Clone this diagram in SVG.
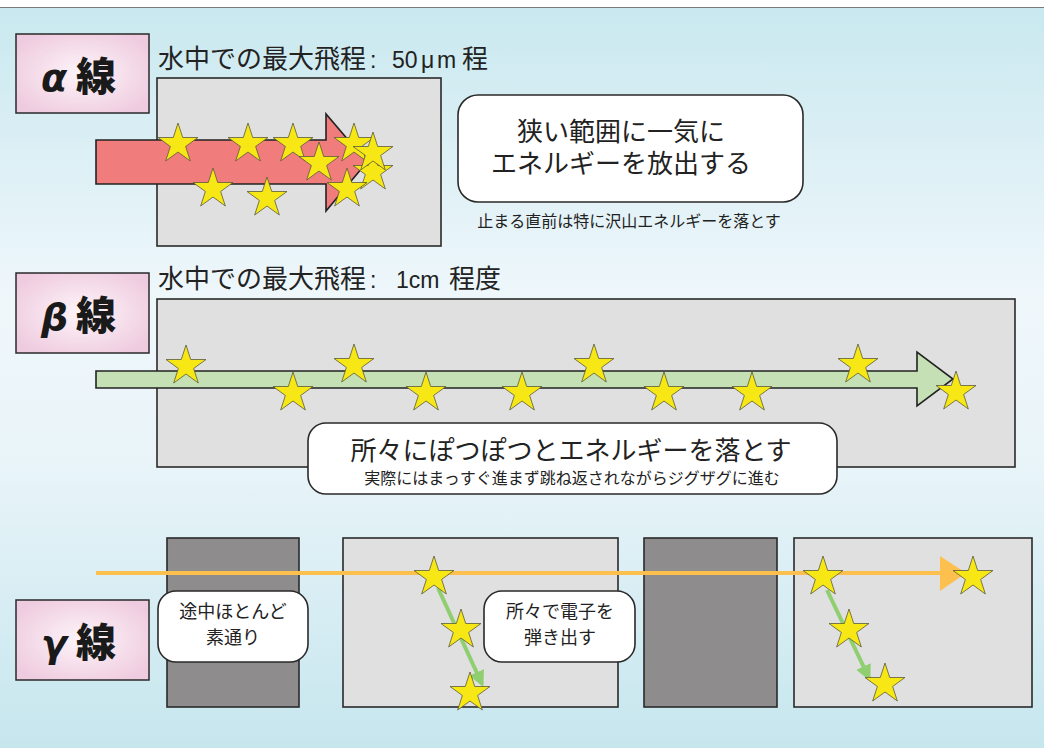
<svg xmlns="http://www.w3.org/2000/svg" xmlns:xlink="http://www.w3.org/1999/xlink" width="1044" height="748" viewBox="0 0 1044 748">
<defs>
<linearGradient id="bg" x1="0" y1="0" x2="0" y2="1">
<stop offset="0" stop-color="#c8e8ef"/>
<stop offset="0.4" stop-color="#eff7fb"/>
<stop offset="0.6" stop-color="#eaf5f9"/>
<stop offset="1" stop-color="#c6e6ee"/>
</linearGradient>
<radialGradient id="pink" cx="0.5" cy="0.5" r="0.6">
<stop offset="0" stop-color="#fdf5f9"/>
<stop offset="1" stop-color="#efcbdf"/>
</radialGradient>
<path id="star" d="M0,-21 L4.71,-6.49 L19.97,-6.49 L7.63,2.48 L12.34,16.99 L0,8.02 L-12.34,16.99 L-7.63,2.48 L-19.97,-6.49 L-4.71,-6.49 Z"/>
<marker id="gh" viewBox="0 0 10 10" refX="8" refY="5" markerWidth="4" markerHeight="4" orient="auto" markerUnits="strokeWidth">
<path d="M0,0 L10,5 L0,10 Z" fill="#8fcf70"/>
</marker>
<style>
.lbl{fill:url(#pink);stroke:#2a2a2a;stroke-width:1.5}
.box{fill:#e0e0e0;stroke:#2a2a2a;stroke-width:1.6}
.dark{fill:#8e8c8d;stroke:#2a2a2a;stroke-width:1.6}
.call{fill:#ffffff;stroke:#2a2a2a;stroke-width:1.6}
.st{fill:#f6e715;stroke:#5a5a3a;stroke-width:0.8}
.t{font-family:"Noto Sans CJK JP","Liberation Sans",sans-serif;fill:#222}
.lat{font-family:"Liberation Sans","Noto Sans CJK JP",sans-serif;font-size:23px}
.big{font-family:"Noto Sans CJK JP","Liberation Sans",sans-serif;font-weight:900;fill:#1a1a1a;font-size:40px}
.gk{font-family:"DejaVu Sans","Liberation Sans",sans-serif;font-weight:bold;font-style:italic;fill:#1a1a1a;font-size:38px}
</style>
</defs>
<rect x="0" y="0" width="1044" height="748" fill="url(#bg)"/>
<rect x="0" y="0" width="1044" height="7" fill="#ffffff"/>
<line x1="0" y1="7.5" x2="1044" y2="7.5" stroke="#7a7a7a" stroke-width="1"/>

<g id="alpha">
<rect class="lbl" x="16" y="34" width="133" height="79"/>
<text class="gk" x="41" y="91">α</text>
<text class="big" x="76" y="91">線</text>
<text class="t" x="158" y="68" font-size="26">水中での最大飛程<tspan class="lat" x="370">:</tspan><tspan class="lat" x="392">50</tspan><tspan class="lat" x="421">μ</tspan><tspan class="lat" x="437">m</tspan><tspan x="462">程</tspan></text>
<rect class="box" x="157" y="78" width="284" height="168"/>
<polygon points="96,140 326,140 326,114 367,162 326,211 326,184 96,184" fill="#f17c7c" stroke="#222" stroke-width="1.6"/>
<g class="st">
<use href="#star" x="178" y="144"/>
<use href="#star" x="248" y="144"/>
<use href="#star" x="293" y="144"/>
<use href="#star" x="213" y="189"/>
<use href="#star" x="267" y="198"/>
<use href="#star" x="319" y="163"/>
<use href="#star" x="354" y="144"/>
<use href="#star" x="373" y="172"/>
<use href="#star" x="347" y="189"/>
<use href="#star" x="373" y="153"/>
</g>
<rect class="call" x="458" y="95" width="345" height="107" rx="20"/>
<text class="t" x="621" y="141" font-size="26" text-anchor="middle">狭い範囲に一気に</text>
<text class="t" x="621" y="173" font-size="26" text-anchor="middle">エネルギーを放出する</text>
<text class="t" x="629" y="227" font-size="16" text-anchor="middle">止まる直前は特に沢山エネルギーを落とす</text>
</g>

<g id="beta">
<rect class="lbl" x="16" y="273" width="133" height="80"/>
<text class="gk" x="41" y="330">β</text>
<text class="big" x="76" y="330">線</text>
<text class="t" x="158" y="288" font-size="26">水中での最大飛程<tspan class="lat" x="370">:</tspan><tspan class="lat" x="396">1cm</tspan><tspan x="449">程度</tspan></text>
<rect class="box" x="157" y="299" width="858" height="168"/>
<polygon points="96,371 917,371 917,352 953,379 917,406 917,388 96,388" fill="#c5e0b4" stroke="#222" stroke-width="1.6"/>
<g class="st">
<use href="#star" x="186" y="366"/>
<use href="#star" x="293" y="393"/>
<use href="#star" x="354" y="365"/>
<use href="#star" x="426" y="393"/>
<use href="#star" x="522" y="393"/>
<use href="#star" x="594" y="365"/>
<use href="#star" x="664" y="393"/>
<use href="#star" x="752" y="393"/>
<use href="#star" x="858" y="365"/>
<use href="#star" x="956" y="392"/>
</g>
<rect class="call" x="308" y="423" width="529" height="71" rx="18"/>
<text class="t" x="571" y="460" font-size="26" text-anchor="middle">所々にぽつぽつとエネルギーを落とす</text>
<text class="t" x="572" y="484" font-size="16" text-anchor="middle">実際にはまっすぐ進まず跳ね返されながらジグザグに進む</text>
</g>

<g id="gamma">
<rect class="lbl" x="16" y="600" width="133" height="80"/>
<text class="gk" x="41" y="657">γ</text>
<text class="big" x="76" y="657">線</text>
<rect class="dark" x="167" y="538" width="132" height="169"/>
<rect class="box" x="343" y="538" width="275" height="169"/>
<rect class="dark" x="644" y="538" width="133" height="169"/>
<rect class="box" x="794" y="538" width="238" height="169"/>
</g>

<g id="connectors">
<line x1="96" y1="573" x2="941" y2="573" stroke="#fdc04f" stroke-width="4"/>
<polygon points="940,556 966,573 940,591" fill="#fdc04f"/>
<line x1="438" y1="588" x2="482" y2="684" stroke="#8fcf70" stroke-width="4" marker-end="url(#gh)"/>
<line x1="827" y1="590" x2="869" y2="678" stroke="#8fcf70" stroke-width="4" marker-end="url(#gh)"/>
</g>

<g id="gamma-stars" class="st">
<use href="#star" x="434" y="577"/>
<use href="#star" x="461" y="630"/>
<use href="#star" x="470" y="693"/>
<use href="#star" x="823" y="577"/>
<use href="#star" x="849" y="630"/>
<use href="#star" x="885" y="684"/>
<use href="#star" x="973" y="577"/>
</g>

<g id="callout-pass">
<rect class="call" x="158" y="591" width="150" height="71" rx="18"/>
<text class="t" x="233" y="618" font-size="18" text-anchor="middle">途中ほとんど</text>
<text class="t" x="233" y="644" font-size="18" text-anchor="middle">素通り</text>
</g>
<g id="callout-electron">
<rect class="call" x="484" y="591" width="151" height="71" rx="18"/>
<text class="t" x="560" y="618" font-size="18" text-anchor="middle">所々で電子を</text>
<text class="t" x="560" y="644" font-size="18" text-anchor="middle">弾き出す</text>
</g>
</svg>
